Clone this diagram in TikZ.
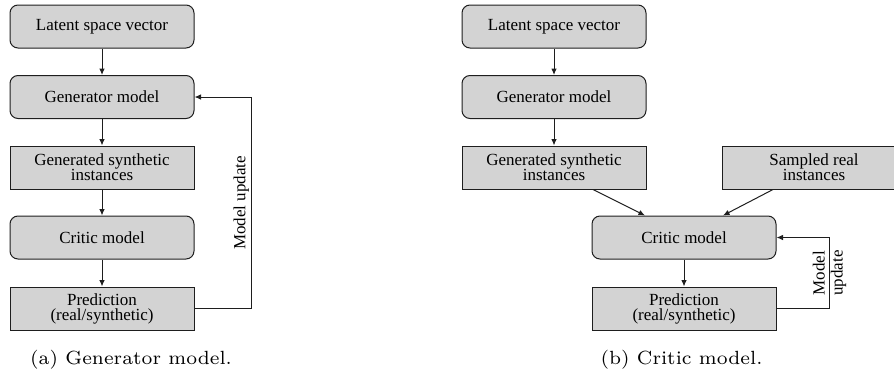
\documentclass[tikz,border=0pt]{standalone}
\usepackage{fontspec}
\setmainfont{Liberation Serif}
\newfontfamily\boxfont{Liberation Serif}
\newfontfamily\capfont{lmroman7-regular.otf}
\usetikzlibrary{arrows.meta,calc}
\definecolor{boxfill}{RGB}{211,211,211}
\definecolor{boxline}{RGB}{30,30,30}
\begin{document}
\begin{tikzpicture}[x=1pt,y=-1pt,
  base/.style={draw=boxline, fill=boxfill, line width=1pt,
    minimum width=184pt, minimum height=43pt, inner sep=0pt,
    align=center, font=\boxfont\fontsize{17}{15}\selectfont},
  rbox/.style={base, rounded corners=8pt},
  sbox/.style={base},
  link/.style={line width=1pt, draw=boxline, -{Latex[length=6.5pt,width=5.5pt]}},
  lbl/.style={font=\boxfont\fontsize{17}{18}\selectfont, rotate=90},
  captext/.style={font=\capfont\fontsize{19.1}{22}\selectfont, anchor=base}]
\useasboundingbox (0,0) rectangle (894,378);
\clip (0,0) rectangle (894,378);

% (a) generator training loop
\node[rbox] (latL) at (102,26.5)  {Latent space vector};
\node[rbox] (genL) at (102,97)    {Generator model};
\node[sbox] (synL) at (102,167.5) {Generated synthetic\\instances};
\node[rbox] (criL) at (102,237.5) {Critic model};
\node[sbox] (preL) at (102,308.5) {Prediction\\(real/synthetic)};

\draw[link] (latL) -- (genL);
\draw[link] (genL) -- (synL);
\draw[link] (synL) -- (criL);
\draw[link] (criL) -- (preL);
\draw[link] (preL.east) -- ++(57,0)
  |- node[pos=0.25, lbl, above, inner sep=2pt] {Model update} (genL.east);

% (b) critic training loop
\node[rbox] (latR) at (554,26.5)  {Latent space vector};
\node[rbox] (genR) at (554,97)    {Generator model};
\node[sbox] (synR) at (554,167.5) {Generated synthetic\\instances};
\node[sbox] (samR) at (814,167.5) {Sampled real\\instances};
\node[rbox] (criR) at (684,237.5) {Critic model};
\node[sbox] (preR) at (684,308.5) {Prediction\\(real/synthetic)};

\draw[link] (latR) -- (genR);
\draw[link] (genR) -- (synR);
\draw[link] ([xshift=39pt]synR.south) -- ([xshift=-39pt]criR.north);
\draw[link] ([xshift=-41pt]samR.south) -- ([xshift=39pt]criR.north);
\draw[link] (criR) -- (preR);
\draw[link] (preR.east) -- ++(53,0)
  |- node[pos=0.25, lbl, align=center] {Model\\update} (criR.east);

% captions
\node[captext] (capA) at (131,364)   {(a) Generator model.};
\node[captext] (capB) at (681.5,364) {(b) Critic model.};
\end{tikzpicture}
\end{document}
